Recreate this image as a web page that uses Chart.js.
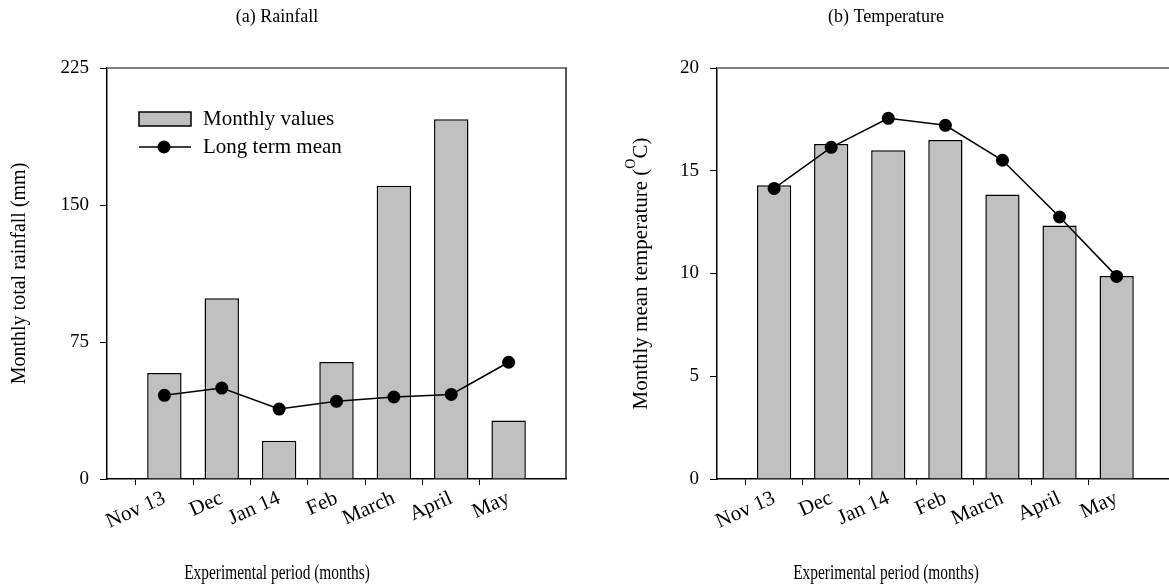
<!DOCTYPE html>
<html>
<head>
<meta charset="utf-8">
<script src="https://cdn.jsdelivr.net/npm/chart.js@4.4.0/dist/chart.umd.min.js"></script>
<style>
  html, body { margin: 0; padding: 0; background: #fff; overflow: hidden; }
  #wrap { position: relative; width: 1169px; height: 587px; overflow: hidden; }
  #rain { position: absolute; left: 0; top: 0; }
  #temp { position: absolute; left: 585px; top: 0; }
</style>
</head>
<body>
<div id="wrap">
  <canvas id="rain" width="585" height="587"></canvas>
  <canvas id="temp" width="600" height="587"></canvas>
</div>
<script>
// valores
const months = ["Nov 13", "Dec", "Jan 14", "Feb", "March", "April", "May"];
const rainMonthly = [58, 99, 21, 64, 160.5, 197, 32];
const rainMean = [45.8, 49.8, 38.3, 42.5, 44.9, 46.3, 63.9];
const rainTicks = [0, 75, 150, 225];
const tempMonthly = [14.3, 16.3, 16.0, 16.5, 13.85, 12.33, 9.88];
const tempMean = [14.14, 16.14, 17.55, 17.21, 15.51, 12.75, 9.86];
const tempTicks = [0, 5, 10, 15, 20];

const FONT = "'Liberation Serif', 'Times New Roman', serif";
Chart.defaults.font.family = FONT;
Chart.defaults.color = "#000";
Chart.defaults.animation = false;

// uma posição vazia antes e depois dos meses
const pad = (arr) => [null, ...arr, null];
const labels = ["", ...months, ""];

// títulos, moldura superior/direita e legenda
const frame = {
  id: "frame",
  afterDraw(chart, args, opts) {
    const { ctx, chartArea: a } = chart;
    ctx.save();
    ctx.strokeStyle = "#808080";
    ctx.lineWidth = 2;
    ctx.beginPath();
    ctx.moveTo(a.left, a.top);
    ctx.lineTo(a.right + 1, a.top);
    ctx.stroke();
    if (opts.right) {
      ctx.strokeStyle = "#222";
      ctx.lineWidth = 1.5;
      ctx.beginPath();
      ctx.moveTo(a.right, a.top);
      ctx.lineTo(a.right, a.bottom);
      ctx.stroke();
    }
    ctx.fillStyle = "#000";
    ctx.textAlign = "center";
    ctx.textBaseline = "middle";
    ctx.font = "18px " + FONT;
    ctx.fillText(opts.title, opts.cx, 17);

    // título do eixo x, condensado como no original
    ctx.save();
    ctx.translate(opts.cx, 574);
    ctx.scale(0.77, 1);
    ctx.font = "20px " + FONT;
    ctx.fillText("Experimental period (months)", 0, 0);
    ctx.restore();

    if (opts.yTitle) {
      // título do eixo y com "o" sobrescrito
      const parts = opts.yTitle;
      ctx.translate(opts.yTitleX, (a.top + a.bottom) / 2);
      ctx.rotate(-Math.PI / 2);
      ctx.font = "21px " + FONT;
      const w0 = ctx.measureText(parts[0]).width;
      ctx.font = "14px " + FONT;
      const w1 = ctx.measureText(parts[1]).width;
      ctx.font = "21px " + FONT;
      const w2 = ctx.measureText(parts[2]).width;
      let x = -(w0 + w1 + w2) / 2;
      ctx.textAlign = "left";
      ctx.fillText(parts[0], x, 0);
      x += w0;
      ctx.font = "14px " + FONT;
      ctx.fillText(parts[1], x, -10);
      x += w1;
      ctx.font = "21px " + FONT;
      ctx.fillText(parts[2], x, 0);
      ctx.setTransform(1, 0, 0, 1, 0, 0);
    }

    if (opts.legend) {
      const x0 = a.left + 32, y0 = a.top + 51;
      ctx.fillStyle = "#c0c0c0";
      ctx.fillRect(x0, y0 - 7, 52, 14);
      ctx.strokeStyle = "#000";
      ctx.lineWidth = 1.5;
      ctx.strokeRect(x0, y0 - 7, 52, 14);
      ctx.beginPath();
      ctx.moveTo(x0, y0 + 28);
      ctx.lineTo(x0 + 52, y0 + 28);
      ctx.stroke();
      ctx.fillStyle = "#000";
      ctx.beginPath();
      ctx.arc(x0 + 25, y0 + 28, 6.5, 0, Math.PI * 2);
      ctx.fill();
      ctx.font = "21px " + FONT;
      ctx.textAlign = "left";
      ctx.fillText("Monthly values", x0 + 64, y0);
      ctx.fillText("Long term mean", x0 + 64, y0 + 28);
    }
    ctx.restore();
  },
};

function makeChart(id, bars, line, ticks, max, yAxisWidth, padRight, yTitle, frameOpts) {
  return new Chart(document.getElementById(id), {
    data: {
      labels: labels,
      datasets: [
        {
          type: "line",
          label: "Long term mean",
          data: pad(line),
          borderColor: "#000",
          borderWidth: 1.5,
          pointRadius: 6.5,
          pointBackgroundColor: "#000",
          pointBorderWidth: 0,
          tension: 0,
          spanGaps: false,
          order: 0,
        },
        {
          type: "bar",
          label: "Monthly values",
          data: pad(bars),
          backgroundColor: "#c0c0c0",
          borderColor: "#000",
          borderWidth: 1.5,
          categoryPercentage: 1,
          barPercentage: 0.6,
          order: 1,
        },
      ],
    },
    options: {
      responsive: false,
      layout: { padding: { top: 68, right: padRight, left: 0, bottom: 0 } },
      plugins: { legend: { display: false }, tooltip: { enabled: false }, frame: frameOpts },
      scales: {
        x: {
          offset: false,
          grid: {
            drawOnChartArea: false,
            tickLength: 6,
            tickColor: (c) => (c.index === 0 || c.index === labels.length - 1 ? "transparent" : "#000"),
          },
          border: { color: "#000", width: 1.5 },
          ticks: { font: { size: 21 }, minRotation: 24, maxRotation: 24, autoSkip: false, padding: 1 },
          afterFit: (s) => { s.height = 108; },
        },
        y: {
          min: 0,
          max: max,
          afterBuildTicks: (s) => { s.ticks = ticks.map((v) => ({ value: v })); },
          grid: { drawOnChartArea: false, tickLength: 7, tickColor: "#000" },
          border: { color: "#000", width: 1.5 },
          ticks: { font: { size: 19 }, padding: 11 },
          title: yTitle
            ? { display: true, text: yTitle, font: { size: 20 }, padding: { top: 8 } }
            : { display: false },
          afterFit: (s) => { s.width = yAxisWidth; },
        },
      },
    },
    plugins: [frame],
  });
}

makeChart("rain", rainMonthly, rainMean, rainTicks, 225, 107, 19,
  "Monthly total rainfall (mm)",
  { title: "(a) Rainfall", cx: 277, right: true, legend: true });

makeChart("temp", tempMonthly, tempMean, tempTicks, 20, 132, 9,
  null,
  { title: "(b) Temperature", cx: 886 - 585, right: false, legend: false,
    yTitle: ["Monthly mean temperature (", "O", "C)"], yTitleX: 56 });
</script>
</body>
</html>
